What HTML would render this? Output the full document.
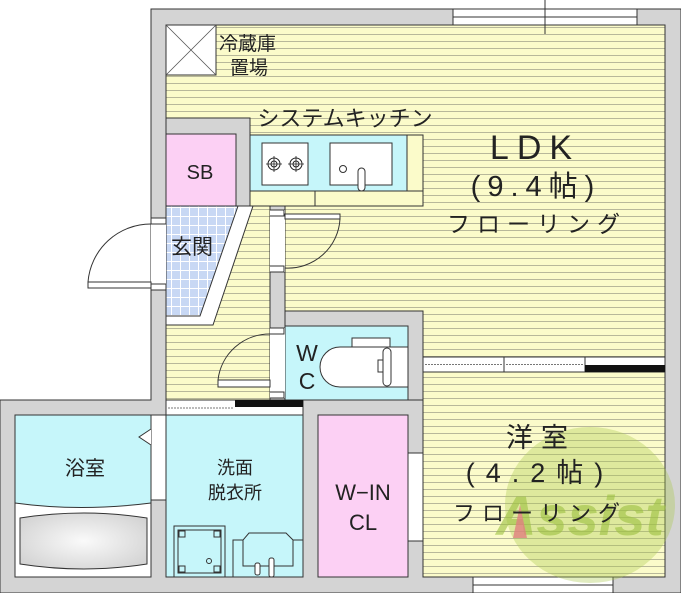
<!DOCTYPE html>
<html><head><meta charset="utf-8"><style>
html,body{margin:0;padding:0;background:#fff;}
svg{display:block;}
text{font-family:"Liberation Sans","Noto Sans CJK JP",sans-serif;fill:#222;}
</style></head><body>
<svg width="681" height="593" viewBox="0 0 681 593" xmlns="http://www.w3.org/2000/svg">
<defs>
<pattern id="fl" width="10" height="7" patternUnits="userSpaceOnUse">
<rect width="10" height="7" fill="#fbfbca"/><line x1="0" y1="6.5" x2="10" y2="6.5" stroke="#b8b89a" stroke-width="1"/>
</pattern>
<pattern id="tile" width="9" height="9" patternUnits="userSpaceOnUse">
<rect width="9" height="9" fill="#c8d8f4"/><path d="M0 0.5H9M0.5 0V9" stroke="#fff" stroke-width="1"/>
</pattern>
<radialGradient id="tub" cx="0.5" cy="0.5" r="0.6"><stop offset="0" stop-color="#fafafa"/><stop offset="1" stop-color="#d4d4d4"/></radialGradient>
</defs>
<path d="M151 9H681V593H0V400H151Z" fill="#d4d4d4" stroke="#333" stroke-width="1"/>
<rect x="166" y="25" width="499" height="375" fill="url(#fl)" stroke="#333"/>
<rect x="423" y="365" width="242" height="212" fill="url(#fl)" stroke="#333"/>
<rect x="453" y="9" width="184" height="16" fill="#fff" stroke="#333"/>
<line x1="453" y1="17" x2="637" y2="17" stroke="#333"/>
<line x1="545" y1="0" x2="545" y2="34" stroke="#333"/>
<rect x="166" y="25" width="50" height="50" fill="#fff" stroke="#333"/>
<path d="M166 25L216 75M216 25L166 75" stroke="#555" stroke-width="0.8"/>
<text x="219" y="50" font-size="19">冷蔵庫</text>
<text x="230" y="74" font-size="19">置場</text>
<path d="M166 118H250V191H315V206H166Z" fill="#d4d4d4" stroke="#333"/>
<rect x="166" y="134" width="70" height="72" fill="#fcd0f4" stroke="#333"/>
<text x="200" y="179" font-size="20" text-anchor="middle">SB</text>
<rect x="250" y="135" width="173" height="71" fill="#fbfbca" stroke="#333"/>
<rect x="315" y="191" width="108" height="15" fill="#fbfbca" stroke="#333"/>
<rect x="250" y="135" width="157" height="56" fill="#c6f6fa" stroke="#333"/>
<rect x="262" y="143" width="46" height="42" fill="#fff" stroke="#333"/>
<g fill="none" stroke="#222"><circle cx="274" cy="164" r="6"/><circle cx="274" cy="164" r="3"/><circle cx="296" cy="164" r="6"/><circle cx="296" cy="164" r="3"/>
<path d="M266 164h16M274 156v16M288 164h16M296 156v16" stroke-width="0.8"/></g>
<rect x="330" y="143" width="62" height="42" fill="#fff" stroke="#333"/>
<circle cx="343" cy="169" r="3.5" fill="#fff" stroke="#333"/>
<rect x="358" y="168" width="7" height="23" rx="3.5" fill="#fff" stroke="#333"/>
<text x="345" y="126" font-size="22" text-anchor="middle">システムキッチン</text>
<path d="M166 206H253L213 325H166Z" fill="#fff" stroke="#333"/>
<path d="M166 206H238L200 316H166Z" fill="url(#tile)" stroke="#333"/>
<text x="192" y="254" font-size="21" text-anchor="middle">玄関</text>
<rect x="151" y="218" width="15" height="72" fill="#fff"/>
<rect x="151" y="218" width="15" height="6" fill="#fff" stroke="#333"/>
<rect x="151" y="284" width="15" height="6" fill="#fff" stroke="#333"/>
<rect x="88" y="282" width="63" height="6" fill="#fff" stroke="#333"/>
<path d="M88 282A63 63 0 0 1 151 224" fill="none" stroke="#333"/>
<rect x="270" y="206" width="15" height="194" fill="#d4d4d4" stroke="#333"/>
<rect x="270" y="210" width="15" height="62" fill="#fff"/>
<path d="M270 210h14v6h-14M270 272h14v-6h-14" fill="#fff" stroke="#333"/>
<rect x="285" y="214" width="55" height="5" fill="#fff" stroke="#333"/>
<path d="M340 219A52 52 0 0 1 285 268" fill="none" stroke="#333"/>
<path d="M285 311H423V400H285Z" fill="#d4d4d4" stroke="#333"/>
<rect x="285" y="326" width="123" height="74" fill="#c6f6fa" stroke="#333"/>
<rect x="270" y="328" width="15" height="70" fill="#fff"/>
<path d="M270 328h14v6h-14M270 398h14v-6h-14" fill="#fff" stroke="#333"/>
<rect x="218" y="380" width="52" height="7" fill="#fff" stroke="#333"/>
<path d="M218 380A52 52 0 0 1 270 334" fill="none" stroke="#333"/>
<rect x="352" y="338" width="38" height="10" fill="#fff" stroke="#333"/>
<path d="M408 347H340A20 20 0 0 0 340 387H408Z" fill="#fff" stroke="#333"/>
<rect x="383" y="348" width="8" height="38" rx="4" fill="#fff" stroke="#333"/>
<rect x="378" y="360" width="5" height="12" fill="#fff" stroke="#333"/>
<text x="307" y="361" font-size="23" text-anchor="middle">W</text>
<text x="307" y="389" font-size="23" text-anchor="middle">C</text>
<rect x="423" y="357" width="242" height="15" fill="#fff" stroke="#333"/>
<rect x="423" y="357" width="81" height="15" fill="#fff" stroke="#333"/>
<rect x="504" y="357" width="81" height="15" fill="#fff" stroke="#333"/>
<path d="M425 364.5H502M506 364.5H583" stroke="#777" stroke-dasharray="2 1"/>
<rect x="585" y="365" width="80" height="7" fill="#111"/>
<rect x="166" y="400" width="137" height="15" fill="#fff" stroke="#333"/>
<path d="M168 408H233" stroke="#777" stroke-dasharray="2 1"/>
<rect x="235" y="400" width="68" height="7" fill="#111"/>
<rect x="15" y="415" width="136" height="162" fill="#c6f6fa" stroke="#333"/>
<path d="M15 503Q80 512 151 503V577H15Z" fill="#fff" stroke="#333"/>
<path d="M20 518Q84 508 147 518V564Q84 574 20 564Z" fill="url(#tub)" stroke="#333"/>
<rect x="151" y="415" width="15" height="85" fill="#fff" stroke="#333"/>
<path d="M151 429L139 437L151 445" fill="#fff" stroke="#333"/>
<text x="85" y="475" font-size="20" text-anchor="middle">浴室</text>
<rect x="166" y="415" width="137" height="162" fill="#c6f6fa" stroke="#333"/>
<rect x="174" y="526" width="51" height="51" fill="#c6f6fa" stroke="#333"/>
<rect x="178" y="530" width="43" height="43" fill="none" stroke="#333"/>
<rect x="179" y="531" width="6" height="6" fill="none" stroke="#333"/><rect x="214" y="531" width="6" height="6" fill="none" stroke="#333"/>
<rect x="179" y="566" width="6" height="6" fill="none" stroke="#333"/><rect x="214" y="566" width="6" height="6" fill="none" stroke="#333"/>
<circle cx="209" cy="561" r="2.5" fill="none" stroke="#333"/>
<rect x="233" y="540" width="70" height="37" fill="#c6f6fa" stroke="#333"/>
<path d="M243 566V540L249 533H286L293 540V566Z" fill="#c6f6fa" stroke="#333"/>
<rect x="255" y="563" width="5" height="12" rx="2" fill="#fff" stroke="#333"/>
<rect x="269" y="558" width="5" height="19" rx="2" fill="#fff" stroke="#333"/>
<text x="235" y="474" font-size="18" text-anchor="middle">洗面</text>
<text x="235" y="499" font-size="18" text-anchor="middle">脱衣所</text>
<rect x="318" y="415" width="90" height="162" fill="#fcd0f4" stroke="#333"/>
<rect x="408" y="453" width="15" height="88" fill="#fff" stroke="#333"/>
<text x="363" y="500" font-size="22" text-anchor="middle">W−IN</text>
<text x="363" y="530" font-size="22" text-anchor="middle">CL</text>
<rect x="473" y="577" width="140" height="16" fill="#fff" stroke="#333"/>
<line x1="473" y1="585" x2="613" y2="585" stroke="#333"/>
<ellipse cx="590" cy="505" rx="85" ry="78" fill="#a8c84a" opacity="0.35"/>
<text x="580" y="535" font-size="56" font-weight="bold" font-style="italic" text-anchor="middle" style="fill:#9cc040;opacity:0.6">Assist</text>
<path d="M520 505L527 538H513Z" fill="#e08080" opacity="0.8"/>
<text x="535" y="159" font-size="34" text-anchor="middle" letter-spacing="8">LDK</text>
<text x="536" y="196" font-size="29" text-anchor="middle" letter-spacing="7">(9.4帖)</text>
<text x="537" y="232" font-size="23" text-anchor="middle" letter-spacing="7">フローリング</text>
<text x="541" y="447" font-size="27" text-anchor="middle" letter-spacing="8">洋室</text>
<text x="540" y="482" font-size="27" text-anchor="middle" letter-spacing="11">(4.2帖)</text>
<text x="540" y="521" font-size="22" text-anchor="middle" letter-spacing="7">フローリング</text>
</svg>
</body></html>
